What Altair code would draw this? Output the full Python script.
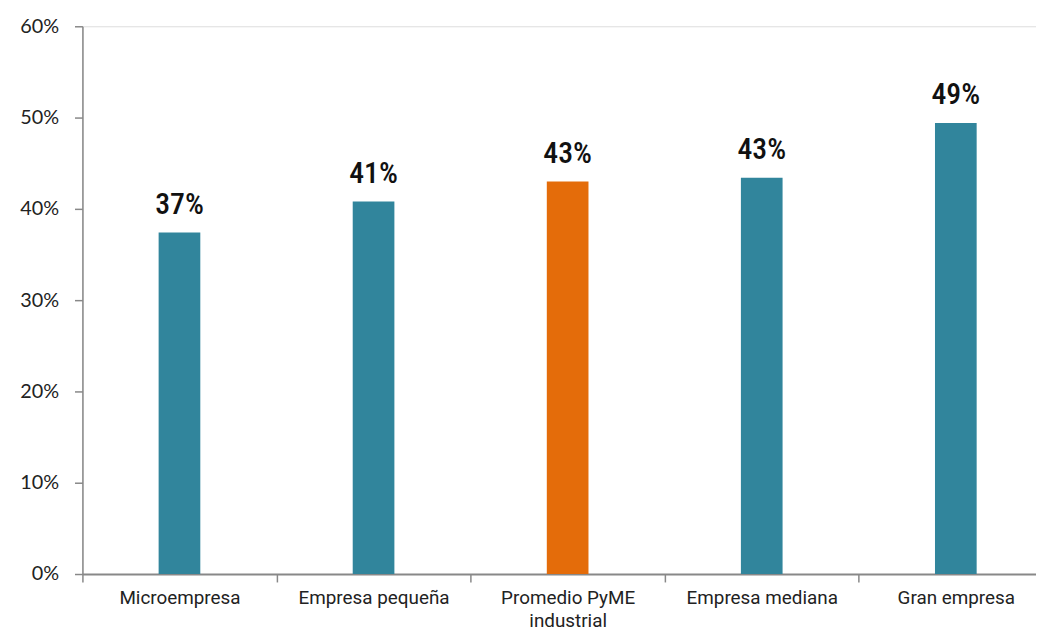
import altair as alt
import pandas as pd

categories = ["Microempresa", "Empresa pequeña", "Promedio PyME|industrial", "Empresa mediana", "Gran empresa"]
values = [0.374, 0.408, 0.430, 0.434, 0.494]
colors = ["#31859C", "#31859C", "#E46C0A", "#31859C", "#31859C"]

df = pd.DataFrame({"cat": categories, "val": values, "color": colors})

base = alt.Chart(df).encode(
    x=alt.X("cat:N", sort=categories, title=None,
            scale=alt.Scale(paddingInner=0, paddingOuter=0),
            axis=alt.Axis(labelAngle=0, labelExpr="split(datum.label, '|')",
                          labelFont="Roboto", labelFontSize=19, labelColor="#222222",
                          labelPadding=7, labelLineHeight=23,
                          domainColor="#888888", domainWidth=2,
                          tickColor="#888888", tickSize=8, tickWidth=1.5, tickBand="extent",
                          grid=False)),
    y=alt.Y("val:Q", title=None,
            scale=alt.Scale(domain=[0, 0.6]),
            axis=alt.Axis(values=[0, 0.1, 0.2, 0.3, 0.4, 0.5, 0.6], format=".0%",
                          labelFont="Lato", labelFontSize=20, labelColor="#222222",
                          labelPadding=16,
                          domainColor="#888888", domainWidth=1.5,
                          tickColor="#888888", tickSize=8, tickWidth=1.5,
                          grid=False)),
)

bars = base.mark_bar(size=42).encode(color=alt.Color("color:N", scale=None))
labels = base.mark_text(baseline="alphabetic", dy=-19,
                        font="Roboto Condensed, DejaVu Sans Condensed, Roboto", fontSize=30,
                        fontWeight=500, color="#111111").encode(
    text=alt.Text("val:Q", format=".0%"))

chart = (bars + labels).properties(
    width=978, height=552,
    autosize=alt.AutoSizeParams(type="none"),
    padding={"left": 75, "top": 16, "right": -17, "bottom": 55},
).configure_view(stroke=None).configure(background="white")

chart.save("out.html", embed_options={"renderer": "svg", "actions": False})
